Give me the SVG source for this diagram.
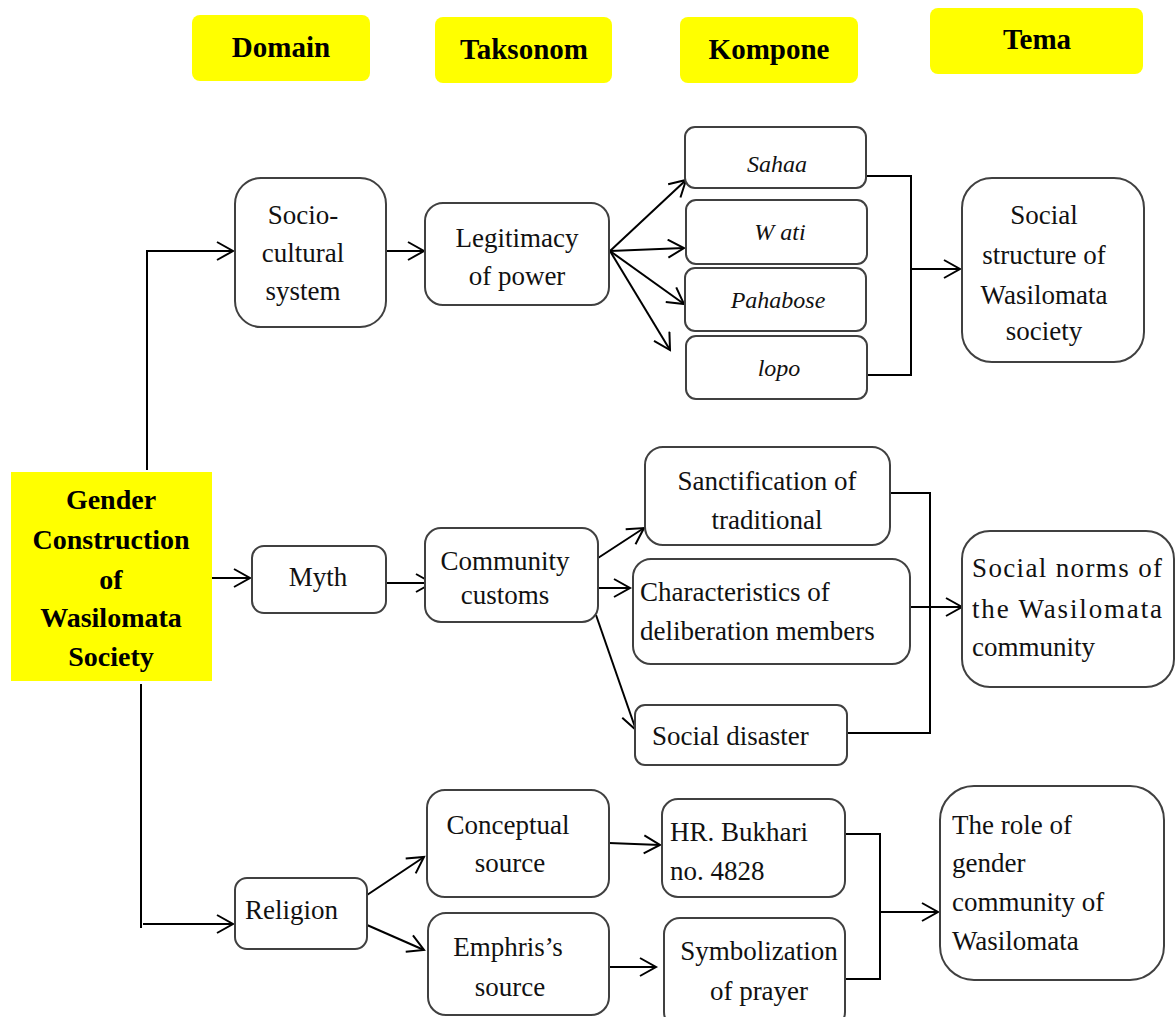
<svg xmlns="http://www.w3.org/2000/svg" width="1175" height="1017" viewBox="0 0 1175 1017">
<defs>
<marker id="arr" markerUnits="userSpaceOnUse" markerWidth="20" markerHeight="22" refX="17" refY="10" orient="auto">
<path d="M1,1 L17,10 L1,19" fill="none" stroke="#000" stroke-width="2"/>
</marker>
<style>
.box{fill:#fff;stroke:#404040;stroke-width:2}
.hdr{fill:#ffff00;stroke:none}
.t{font-size:27px;fill:#111}
.c{text-anchor:middle}
.i{font-style:italic;font-size:24px}
.b{font-weight:bold;font-size:28px;text-anchor:middle;fill:#000}
.hb{font-weight:bold;font-size:29px;text-anchor:middle;fill:#000}
.ln{fill:none;stroke:#000;stroke-width:2}
.la{fill:none;stroke:#000;stroke-width:2;marker-end:url(#arr)}
</style>
</defs>
<rect width="1175" height="1017" fill="#fff"/>
<g font-family="Liberation Serif, Times New Roman, DejaVu Serif, serif">
<g id="headers">
<g id="h-domain"><rect class="hdr" x="192" y="15" width="178" height="66" rx="8"/><text class="hb" x="281" y="57">Domain</text></g>
<g id="h-taksonom"><rect class="hdr" x="435" y="17" width="177" height="66" rx="8"/><text class="hb" x="524" y="59">Taksonom</text></g>
<g id="h-kompone"><rect class="hdr" x="680" y="17" width="178" height="66" rx="8"/><text class="hb" x="769" y="59">Kompone</text></g>
<g id="h-tema"><rect class="hdr" x="930" y="8" width="213" height="66" rx="8"/><text class="hb" x="1037" y="49">Tema</text></g>
</g>

<g id="connectors">
<path class="la" d="M147,470 V251 H233"/>
<path class="la" d="M212,578 H250"/>
<path class="ln" d="M141,684 V928"/>
<path class="la" d="M143,924 H233"/>
<path class="la" d="M372,251 H424"/>
<path class="la" d="M610,251 L686,180"/>
<path class="la" d="M610,251 L684,248"/>
<path class="la" d="M610,251 L684,304"/>
<path class="la" d="M610,251 L670,350"/>
<path class="ln" d="M866,176 H911 V375 H867"/>
<path class="la" d="M911,269 H960"/>
<path class="la" d="M367,583 H432"/>
<path class="la" d="M598,558 L644,528"/>
<path class="la" d="M598,588 L630,588"/>
<path class="la" d="M596,615 L636,730"/>
<path class="ln" d="M890,493 H930 V733 H847"/>
<path class="la" d="M910,607 H962"/>
<path class="la" d="M367,895 L424,857"/>
<path class="la" d="M367,925 L424,950"/>
<path class="la" d="M609,843 L660,845"/>
<path class="la" d="M609,967 H656"/>
<path class="ln" d="M843,834 H880 V979 H845"/>
<path class="la" d="M880,912 H938"/>
</g>

<g id="n-gender"><rect x="11" y="472" width="201" height="209" fill="#ffff00"/>
<text class="t b" x="111" y="509">Gender</text>
<text class="t b" x="111" y="549">Construction</text>
<text class="t b" x="111" y="589">of</text>
<text class="t b" x="111" y="627">Wasilomata</text>
<text class="t b" x="111" y="666">Society</text></g>

<g id="n-socio"><rect class="box" x="235" y="178" width="151" height="149" rx="26"/>
<text class="t c" x="303" y="224">Socio-</text>
<text class="t c" x="303" y="262">cultural</text>
<text class="t c" x="303" y="300">system</text></g>

<g id="n-legit"><rect class="box" x="425" y="203" width="184" height="102" rx="18"/>
<text class="t c" x="517" y="247">Legitimacy</text>
<text class="t c" x="517" y="285">of power</text></g>

<g id="n-sahaa"><rect class="box" x="685" y="127" width="181" height="61" rx="10"/>
<text class="t c i" x="777" y="172">Sahaa</text></g>
<g id="n-wati"><rect class="box" x="686" y="200" width="181" height="64" rx="10"/>
<text class="t c i" x="780" y="240">W ati</text></g>
<g id="n-pahabose"><rect class="box" x="685" y="268" width="181" height="63" rx="10"/>
<text class="t c i" x="778" y="308">Pahabose</text></g>
<g id="n-lopo"><rect class="box" x="686" y="336" width="181" height="63" rx="10"/>
<text class="t c i" x="779" y="376">lopo</text></g>

<g id="n-structure"><rect class="box" x="962" y="178" width="182" height="184" rx="30"/>
<text class="t c" x="1044" y="224">Social</text>
<text class="t c" x="1044" y="264">structure of</text>
<text class="t c" x="1044" y="304">Wasilomata</text>
<text class="t c" x="1044" y="340">society</text></g>

<g id="n-myth"><rect class="box" x="252" y="546" width="134" height="67" rx="12"/>
<text class="t c" x="318" y="586">Myth</text></g>

<g id="n-customs"><rect class="box" x="425" y="528" width="173" height="94" rx="16"/>
<text class="t c" x="505" y="570">Community</text>
<text class="t c" x="505" y="604">customs</text></g>

<g id="n-sanct"><rect class="box" x="645" y="447" width="245" height="98" rx="18"/>
<text class="t c" x="767" y="490">Sanctification of</text>
<text class="t c" x="767" y="529">traditional</text></g>

<g id="n-charac"><rect class="box" x="633" y="559" width="277" height="105" rx="18"/>
<text class="t" x="640" y="601">Characteristics of</text>
<text class="t" x="640" y="640">deliberation members</text></g>

<g id="n-disaster"><rect class="box" x="635" y="705" width="212" height="60" rx="10"/>
<text class="t" x="652" y="745">Social disaster</text></g>

<g id="n-norms"><rect class="box" x="962" y="531" width="212" height="156" rx="28"/>
<text class="t" x="972" y="577" textLength="190" lengthAdjust="spacing">Social norms of</text>
<text class="t" x="972" y="618" textLength="190" lengthAdjust="spacing">the Wasilomata</text>
<text class="t" x="972" y="656">community</text></g>

<g id="n-religion"><rect class="box" x="235" y="878" width="132" height="71" rx="12"/>
<text class="t" x="245" y="919">Religion</text></g>

<g id="n-concept"><rect class="box" x="427" y="790" width="182" height="107" rx="18"/>
<text class="t c" x="508" y="834">Conceptual</text>
<text class="t c" x="510" y="872">source</text></g>

<g id="n-emphris"><rect class="box" x="428" y="913" width="181" height="102" rx="18"/>
<text class="t c" x="508" y="956">Emphris’s</text>
<text class="t c" x="510" y="996">source</text></g>

<g id="n-bukhari"><rect class="box" x="662" y="799" width="183" height="98" rx="16"/>
<text class="t" x="670" y="841">HR. Bukhari</text>
<text class="t" x="670" y="880">no. 4828</text></g>

<g id="n-symbol"><rect class="box" x="664" y="918" width="181" height="110" rx="16"/>
<text class="t c" x="759" y="960">Symbolization</text>
<text class="t c" x="759" y="1000">of prayer</text></g>

<g id="n-role"><rect class="box" x="940" y="786" width="224" height="194" rx="34"/>
<text class="t" x="952" y="834">The role of</text>
<text class="t" x="952" y="872">gender</text>
<text class="t" x="952" y="911">community of</text>
<text class="t" x="952" y="950">Wasilomata</text></g>
</g>
</svg>
